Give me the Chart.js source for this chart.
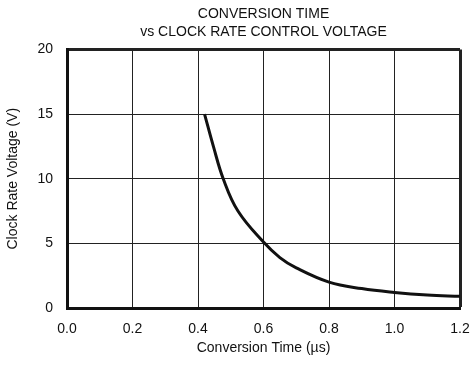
<!DOCTYPE html>
<html lang="en">
  <head>
    <meta charset="UTF-8" />
    <title>Conversion Time vs Clock Rate Control Voltage</title>
    <script src="https://cdn.jsdelivr.net/npm/chart.js"></script>
    <style>
      * {
        margin: 0;
        padding: 0;
        box-sizing: border-box;
      }
      body {
        background-color: #ffffff;
      }
      .chart-container {
        width: 473px;
        height: 366px;
      }
    </style>
  </head>
  <body>
    <div class="chart-container">
      <canvas id="lineChart"></canvas>
    </div>

    <script>
      // values
      const conversionTime = [0.42, 0.447, 0.477, 0.522, 0.6, 0.65, 0.7, 0.8, 0.9, 1.0, 1.1, 1.2];
      const clockVoltage = [15, 12.5, 10, 7.5, 5.1, 3.9, 3.1, 2.0, 1.5, 1.2, 1.0, 0.9];
      const xTicks = [0.0, 0.2, 0.4, 0.6, 0.8, 1.0, 1.2];
      const yTicks = [0, 5, 10, 15, 20];

      const font = "'Liberation Sans', Arial, sans-serif";

      document.addEventListener("DOMContentLoaded", () => {
        const ctx = document.getElementById("lineChart").getContext("2d");
        new Chart(ctx, {
          type: "scatter",
          data: {
            datasets: [
              {
                data: conversionTime.map((x, i) => ({ x: x, y: clockVoltage[i] })),
                showLine: true,
                borderColor: "#111",
                borderWidth: 3,
                pointRadius: 0,
                tension: 0.4,
              },
            ],
          },
          options: {
            responsive: true,
            maintainAspectRatio: false,
            animation: false,
            layout: { padding: { left: 0, right: 13, top: 0, bottom: 0 } },
            plugins: {
              legend: { display: false },
              tooltip: { enabled: false },
              title: {
                display: true,
                fullSize: false,
                text: ["CONVERSION TIME", "vs CLOCK RATE CONTROL VOLTAGE"],
                color: "#111",
                font: { family: font, size: 14, weight: "normal", lineHeight: 1.3 },
                padding: { top: 5, bottom: 8 },
              },
            },
            scales: {
              x: {
                type: "linear",
                min: 0,
                max: 1.2,
                afterBuildTicks: (scale) => {
                  scale.ticks = xTicks.map((v) => ({ value: v }));
                },
                afterFit: (scale) => {
                  scale.height = 58;
                  scale.paddingRight = 0;
                  scale.paddingLeft = 0;
                },
                ticks: {
                  color: "#111",
                  padding: 13,
                  font: { family: font, size: 14 },
                  callback: (v) => v.toFixed(1),
                },
                grid: {
                  color: "#222",
                  lineWidth: (c) => (c.index === xTicks.length - 1 ? 3 : 1),
                  drawTicks: false,
                },
                border: { color: "#111", width: 3 },
                title: {
                  display: true,
                  text: "Conversion Time (µs)",
                  color: "#111",
                  font: { family: font, size: 14 },
                  padding: { top: 4, bottom: 9 },
                },
              },
              y: {
                min: 0,
                max: 20,
                afterBuildTicks: (scale) => {
                  scale.ticks = yTicks.map((v) => ({ value: v }));
                },
                afterFit: (scale) => {
                  scale.width = 67;
                },
                ticks: {
                  color: "#111",
                  padding: 14,
                  font: { family: font, size: 14 },
                },
                grid: {
                  color: "#222",
                  lineWidth: (c) => (c.index === yTicks.length - 1 ? 3 : 1),
                  drawTicks: false,
                },
                border: { color: "#111", width: 3 },
                title: {
                  display: true,
                  text: "Clock Rate Voltage (V)",
                  color: "#111",
                  font: { family: font, size: 14 },
                  padding: { top: 5, bottom: 4 },
                },
              },
            },
          },
        });
      });
    </script>
  </body>
</html>
